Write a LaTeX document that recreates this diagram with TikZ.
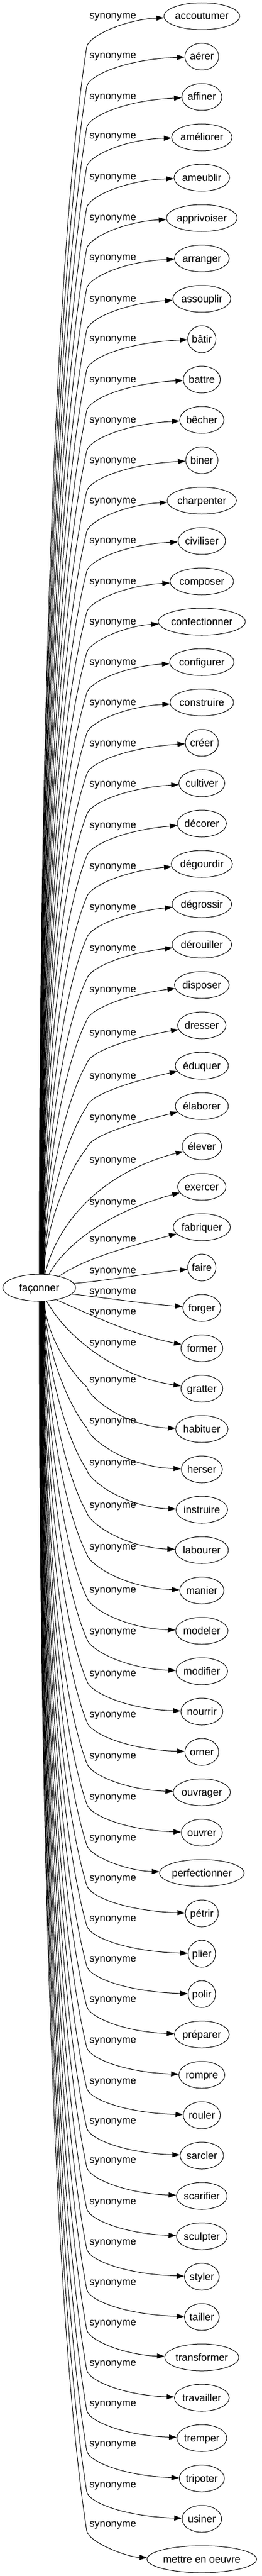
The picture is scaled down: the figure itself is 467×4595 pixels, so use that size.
\documentclass[tikz,border=0pt]{standalone}
\usepackage{fontspec}
\setmainfont{Liberation Sans}
\usetikzlibrary{arrows.meta,shapes.geometric}
\newlength\tw
\newcommand\fsz{\fontsize{18.3}{20}\selectfont}
\tikzset{
  word/.style={ellipse, draw, line width=1pt, minimum height=48pt, inner sep=0pt,
               text height=16pt, text depth=4pt, font=\fsz},
  lab/.style={font=\fsz, inner sep=0pt, anchor=base},
  link/.style={line width=1pt, -{Triangle[length=13.5pt,width=9pt]}},
}
\begin{document}
\begin{tikzpicture}[x=1pt,y=-1pt]
\useasboundingbox (0,0) rectangle (467,4595);
\node[word, minimum width=130pt] (root) at (70,2297) {façonner};
\foreach \i/\txt/\ly in {
0/accoutumer/28, 1/aérer/99, 2/affiner/172, 3/améliorer/242, 4/ameublir/315,
5/apprivoiser/388, 6/arranger/459, 7/assouplir/533, 8/bâtir/604, 9/battre/677,
10/bêcher/749, 11/biner/821, 12/charpenter/893, 13/civiliser/964, 14/composer/1037,
15/confectionner/1109, 16/configurer/1181, 17/construire/1253, 18/créer/1326,
19/cultiver/1398, 20/décorer/1472, 21/dégourdir/1545, 22/dégrossir/1618,
23/dérouiller/1691, 24/disposer/1765, 25/dresser/1842, 26/éduquer/1919,
27/élaborer/1993, 28/élever/2069, 29/exercer/2144, 30/fabriquer/2210,
31/faire/2266, 32/forger/2303, 33/former/2340, 34/gratter/2395, 35/habituer/2461,
36/herser/2534, 37/instruire/2609, 38/labourer/2685, 39/manier/2759,
40/modeler/2836, 41/modifier/2910, 42/nourrir/2985, 43/orner/3058,
44/ouvrager/3132, 45/ouvrer/3205, 46/perfectionner/3278, 47/pétrir/3350,
48/plier/3422, 49/polir/3494, 50/préparer/3566, 51/rompre/3639, 52/rouler/3712,
53/sarcler/3783, 54/scarifier/3853, 55/sculpter/3927, 56/styler/3999,
57/tailler/4071, 58/transformer/4143, 59/travailler/4215, 60/tremper/4287,
61/tripoter/4359, 62/usiner/4432, 63/mettre en oeuvre/4502}{
  \pgfmathsetmacro\yy{29+72*\i}
  \settowidth\tw{\fsz\txt}
  \pgfmathsetmacro\ww{1.2*\tw+35}
  \node[word, minimum width=\ww pt] (c\i) at (360.5,\yy) {\txt};
  \node[lab] (l\i) at (201.5,\ly+5.5) {synonyme};
  \ifnum\i<28
    \pgfmathsetmacro\ang{90-20*\i/27}
    \pgfmathsetmacro\sx{70+0.45*(90-\ang)}
    \pgfmathsetmacro\by{\ly+55}
    \pgfmathsetmacro\dy{2273-\by}
    \pgfmathsetmacro\kx{(0.35+0.41*min(1,\dy/800))*(155-\sx)}
    \pgfmathsetmacro\ha{0.35*\dy}
    \pgfmathsetmacro\hb{0.19*\dy}
    \pgfmathsetmacro\pb{\ly+7+0.3*(\ly-\yy)}
    \draw[link] (root.\ang) .. controls +(0,-\ha) and +(-\kx,\hb) .. (155,\by)
      .. controls +(5,-20) and (225,\pb) .. (c\i);
  \fi
  \ifnum\i>34
    \pgfmathsetmacro\ang{-68-22*(\i-35)/28}
    \pgfmathsetmacro\sx{70+0.45*(90+\ang)}
    \pgfmathsetmacro\by{\ly+13}
    \pgfmathsetmacro\dy{\by-2321}
    \pgfmathsetmacro\kx{(0.35+0.41*min(1,\dy/800))*(155-\sx)}
    \pgfmathsetmacro\ha{0.35*\dy}
    \pgfmathsetmacro\hb{0.19*\dy}
    \pgfmathsetmacro\pb{\yy-4}
    \draw[link] (root.\ang) .. controls +(0,\ha) and +(-\kx,-\hb) .. (155,\by)
      .. controls +(5,20) and (225,\pb) .. (c\i);
  \fi
}
\draw[link] (root.67) .. controls (100,2190) and (170,2095) .. (c28);
\draw[link] (root.54) .. controls (120,2215) and (200,2160) .. (c29);
\draw[link] (root.30) .. controls (150,2245) and (235,2222) .. (c30);
\draw[link] (root.7) .. controls (200,2283) and (260,2272) .. (c31);
\draw[link] (root.-11) .. controls (190,2315) and (260,2326) .. (c32);
\draw[link] (root.-35) .. controls (140,2335) and (230,2380) .. (c33);
\draw[link] (root.-61) .. controls (125,2395) and (220,2458) .. (c34);
\end{tikzpicture}
\end{document}
